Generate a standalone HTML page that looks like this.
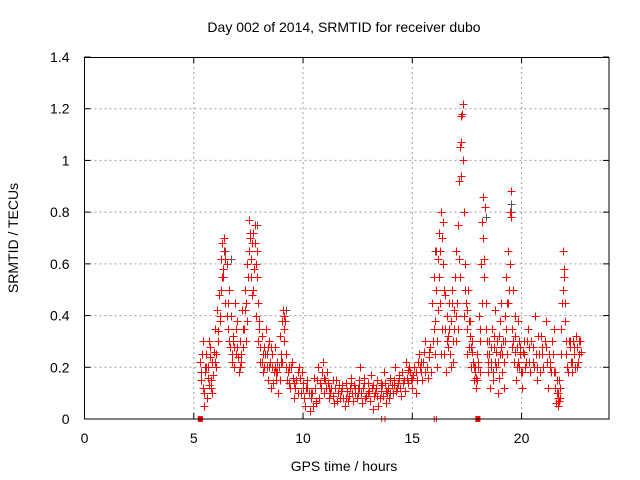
<!DOCTYPE html>
<html><head><meta charset="utf-8"><style>
body{margin:0;background:#fff;}
svg{display:block;font-family:"Liberation Sans",sans-serif;}
</style></head><body>
<svg id="chart" width="640" height="480" viewBox="0 0 640 480">
<rect width="640" height="480" fill="#fff"/>
<text x="344" y="32" text-anchor="middle" font-size="14" fill="#000">Day 002 of 2014, SRMTID for receiver dubo</text>
<text x="344" y="471" text-anchor="middle" font-size="14" fill="#000">GPS time / hours</text>
<text x="18" y="238" text-anchor="middle" font-size="14" fill="#000" transform="rotate(-90 18 238)">SRMTID / TECUs</text>
<g id="grid"></g>
<g id="ticks"></g>
<g id="marks"></g>
<rect x="84.5" y="57.5" width="524.5" height="361.5" fill="none" stroke="#000" stroke-width="1"/>
</svg>
<script>
const xTicks=[0,5,10,15,20];
const yTicks=[0,0.2,0.4,0.6,0.8,1,1.2,1.4];
const yTickLabels=["0","0.2","0.4","0.6","0.8","1","1.2","1.4"];
const hours=[
5.30,5.35,5.40,5.45,5.50,5.55,5.60,5.65,5.70,5.75,
5.80,5.85,5.90,5.95,6.00,6.05,6.10,6.15,6.20,6.25,
6.30,6.35,6.40,6.45,6.50,6.55,6.60,6.65,6.70,6.75,
6.80,6.85,6.90,6.95,7.00,7.05,7.10,7.15,7.20,7.25,
7.30,7.35,7.40,7.45,7.50,7.55,7.60,7.65,7.70,7.75,
7.80,7.85,7.90,7.95,8.00,8.05,8.10,8.15,8.20,8.25,
8.30,8.35,8.40,8.45,8.50,8.55,8.60,8.65,8.70,8.75,
8.80,8.85,8.90,8.95,9.00,9.05,9.10,9.15,9.20,9.25,
9.30,9.40,9.50,9.60,9.70,9.80,9.90,10.00,10.10,10.20,
10.30,10.40,10.50,10.60,10.70,10.80,10.90,11.00,11.10,11.20,
11.30,11.40,11.50,11.60,11.70,11.80,11.90,12.00,12.10,12.20,
12.30,12.40,12.50,12.60,12.70,12.80,12.90,13.00,13.10,13.20,
13.30,13.40,13.50,13.60,13.70,13.80,13.90,14.00,14.10,14.20,
14.30,14.40,14.50,14.60,14.70,14.80,14.90,15.00,15.10,15.20,
15.30,15.40,15.50,15.60,15.70,15.80,15.90,16.00,16.05,16.10,
16.15,16.20,16.25,16.30,16.35,16.40,16.45,16.50,16.55,16.60,
16.65,16.70,16.75,16.80,16.85,16.90,16.95,17.00,17.05,17.10,
17.15,17.20,17.25,17.30,17.35,17.40,17.45,17.50,17.55,17.60,
17.65,17.70,17.75,17.80,17.85,17.90,17.95,18.00,18.05,18.10,
18.15,18.20,18.25,18.30,18.35,18.40,18.45,18.50,18.55,18.60,
18.65,18.70,18.75,18.80,18.85,18.90,18.95,19.00,19.05,19.10,
19.15,19.20,19.25,19.30,19.35,19.40,19.45,19.50,19.55,19.60,
19.65,19.70,19.75,19.80,19.85,19.90,19.95,20.00,20.10,20.20,
20.30,20.40,20.50,20.60,20.70,20.80,20.90,21.00,21.10,21.20,
21.30,21.40,21.50,21.55,21.60,21.65,21.70,21.75,21.80,21.85,
21.90,21.95,22.00,22.05,22.10,22.20,22.30,22.40,22.50,22.60,
22.65,22.70,21.92,21.88,17.28,17.25,17.22,16.42,18.32,19.52,
5.33,5.43,5.53,5.63,5.73,5.83,5.93,6.03,6.13,6.23,
6.33,6.43,6.53,6.63,6.73,6.83,6.93,7.03,7.13,7.23,
7.33,7.43,7.53,7.63,7.73,7.83,7.93,8.03,8.13,8.23,
8.33,8.43,8.53,8.63,8.73,8.83,8.93,9.03,9.13,9.23,
9.35,9.45,9.55,9.65,9.75,9.85,9.95,10.05,10.15,10.25,
10.35,10.45,10.55,10.65,10.75,10.85,10.95,11.05,11.15,11.25,
11.35,11.45,11.55,11.65,11.75,11.85,11.95,12.05,12.15,12.25,
12.35,12.45,12.55,12.65,12.75,12.85,12.95,13.05,13.15,13.25,
13.35,13.45,13.55,13.65,13.75,13.85,13.95,14.05,14.15,14.25,
14.35,14.45,14.55,14.65,14.75,14.85,14.95,15.05,15.15,15.25,
15.35,15.45,15.55,15.65,15.75,15.85,15.95,16.02,16.08,16.12,
16.22,16.32,16.48,16.58,16.68,16.78,16.88,16.98,17.08,17.18,
17.38,17.48,17.58,17.68,17.78,17.88,17.98,18.08,18.18,18.28,
18.38,18.48,18.58,18.68,18.78,18.88,18.98,19.08,19.18,19.28,
19.38,19.48,19.58,19.68,19.78,19.88,19.98,20.05,20.15,20.25,
20.35,20.45,20.55,20.65,20.75,20.85,20.95,21.05,21.15,21.25,
21.35,21.45,21.52,21.58,21.62,21.68,21.72,21.78,22.15,22.25,
22.35,22.45,22.55,5.48,5.68,7.68,7.88,9.12,16.18,16.38,
5.38,5.58,5.78,5.98,6.18,6.38,6.58,6.78,6.98,7.18,
7.38,7.58,7.78,7.98,8.18,8.38,8.58,8.78,8.98,9.18,
9.38,9.58,9.78,9.98,10.18,10.38,10.58,10.78,10.98,11.18,
11.38,11.58,11.78,11.98,12.18,12.38,12.58,12.78,12.98,13.18,
13.38,13.58,13.78,13.98,14.18,14.38,14.58,14.78,14.98,15.18,
15.38,15.58,15.78,15.98,16.18,16.28,16.44,16.62,16.72,16.82,
16.92,17.02,17.12,17.32,17.42,17.52,17.62,17.72,17.82,17.92,
18.02,18.12,18.22,18.42,18.52,18.62,18.72,18.82,18.92,19.02,
19.12,19.22,19.32,19.42,19.62,19.72,19.82,19.92,20.02,20.12,
20.32,20.52,20.72,20.92,21.12,21.32,21.48,21.66,21.82,21.98,
22.02,22.12,22.22,22.32,22.42,22.52,22.62,22.68,6.28,7.58];
const tec=[
0.22,0.15,0.30,0.10,0.18,0.25,0.08,0.20,0.13,0.28,
0.12,0.22,0.17,0.35,0.25,0.42,0.30,0.48,0.38,0.62,
0.68,0.55,0.70,0.45,0.60,0.35,0.50,0.28,0.40,0.22,
0.32,0.20,0.45,0.25,0.38,0.18,0.30,0.22,0.42,0.28,
0.35,0.50,0.45,0.60,0.55,0.77,0.62,0.48,0.72,0.58,
0.75,0.40,0.55,0.30,0.38,0.22,0.32,0.18,0.28,0.25,
0.35,0.20,0.15,0.30,0.22,0.12,0.25,0.18,0.28,0.15,
0.22,0.10,0.20,0.32,0.25,0.38,0.42,0.30,0.20,0.15,
0.18,0.12,0.22,0.08,0.15,0.20,0.10,0.14,0.05,0.12,
0.03,0.10,0.16,0.07,0.20,0.12,0.22,0.15,0.18,0.08,
0.12,0.06,0.15,0.10,0.08,0.13,0.05,0.11,0.09,0.16,
0.07,0.12,0.10,0.20,0.06,0.14,0.09,0.11,0.17,0.04,
0.10,0.15,0.08,0.13,0.18,0.06,0.12,0.16,0.10,0.20,
0.12,0.17,0.09,0.15,0.22,0.14,0.18,0.12,0.20,0.15,
0.25,0.18,0.22,0.30,0.16,0.28,0.45,0.55,0.38,0.65,
0.30,0.72,0.45,0.80,0.35,0.60,0.25,0.48,0.18,0.40,
0.28,0.35,0.20,0.50,0.30,0.42,0.55,0.65,0.45,0.75,
0.92,1.05,1.17,1.22,0.80,0.60,0.45,0.35,0.50,0.28,
0.38,0.20,0.30,0.15,0.18,0.12,0.25,0.22,0.40,0.30,
0.60,0.76,0.86,0.55,0.35,0.25,0.18,0.30,0.12,0.22,
0.35,0.15,0.28,0.42,0.20,0.10,0.32,0.25,0.45,0.18,
0.30,0.12,0.40,0.55,0.25,0.65,0.80,0.88,0.35,0.50,
0.22,0.32,0.15,0.28,0.38,0.20,0.25,0.12,0.30,0.22,
0.35,0.18,0.28,0.40,0.15,0.25,0.32,0.20,0.38,0.12,
0.22,0.30,0.35,0.18,0.10,0.05,0.15,0.08,0.25,0.45,
0.65,0.55,0.38,0.30,0.20,0.28,0.18,0.25,0.32,0.22,
0.30,0.26,0.58,0.50,1.18,1.07,0.94,0.76,0.82,0.78,
0.18,0.12,0.20,0.16,0.24,0.10,0.26,0.20,0.34,0.50,
0.58,0.62,0.40,0.30,0.25,0.28,0.35,0.24,0.20,0.35,
0.42,0.38,0.65,0.55,0.50,0.60,0.45,0.28,0.22,0.20,
0.25,0.20,0.28,0.14,0.20,0.18,0.15,0.22,0.35,0.25,
0.14,0.20,0.16,0.12,0.10,0.16,0.18,0.08,0.12,0.10,
0.08,0.05,0.12,0.15,0.08,0.18,0.10,0.12,0.14,0.10,
0.09,0.12,0.07,0.13,0.11,0.08,0.14,0.07,0.12,0.10,
0.13,0.08,0.15,0.10,0.12,0.08,0.14,0.07,0.12,0.09,
0.12,0.05,0.11,0.09,0.14,0.10,0.08,0.13,0.15,0.11,
0.14,0.12,0.18,0.11,0.16,0.20,0.15,0.17,0.10,0.22,
0.20,0.15,0.26,0.20,0.24,0.18,0.30,0.25,0.50,0.20,
0.55,0.25,0.35,0.30,0.45,0.38,0.22,0.30,0.35,0.55,
0.40,0.25,0.38,0.28,0.22,0.20,0.15,0.18,0.45,0.62,
0.45,0.22,0.28,0.18,0.22,0.30,0.16,0.28,0.22,0.35,
0.45,0.60,0.28,0.40,0.20,0.30,0.18,0.26,0.20,0.30,
0.22,0.30,0.20,0.25,0.32,0.18,0.28,0.30,0.22,0.25,
0.18,0.25,0.12,0.06,0.15,0.10,0.07,0.12,0.30,0.22,
0.30,0.20,0.28,0.05,0.30,0.68,0.65,0.40,0.62,0.70,
0.25,0.20,0.15,0.22,0.40,0.65,0.45,0.30,0.28,0.25,
0.30,0.70,0.68,0.35,0.25,0.28,0.20,0.18,0.22,0.38,
0.20,0.14,0.18,0.12,0.15,0.10,0.06,0.14,0.16,0.12,
0.15,0.10,0.12,0.08,0.14,0.10,0.12,0.16,0.10,0.13,
0.09,0.14,0.11,0.15,0.13,0.16,0.14,0.19,0.16,0.18,
0.22,0.18,0.26,0.35,0.42,0.65,0.50,0.32,0.25,0.45,
0.35,0.40,0.62,1.00,0.50,0.42,0.32,0.26,0.20,0.16,
0.20,0.35,0.70,0.30,0.25,0.20,0.32,0.26,0.22,0.38,
0.25,0.30,0.45,0.50,0.30,0.26,0.22,0.28,0.18,0.25,
0.28,0.22,0.20,0.25,0.28,0.20,0.18,0.08,0.35,0.45,
0.25,0.18,0.30,0.22,0.28,0.20,0.25,0.30,0.55,0.72];
const greyHours=[17.30,19.50,7.90,6.45,16.05,18.35,9.20,6.70,19.52,12.5,14.0];
const greyTec=[1.22,0.83,0.75,0.65,0.65,0.78,0.42,0.62,0.80,0.12,0.10];
const squareHours=[5.3,18.0];
const tickMarkHours=[13.6,13.75,16.0,16.1];

const X0=84.5,X1=609,Y0=419,Y1=57,XMAX=24,YMAX=1.4;
function xs(h){return X0+(h/XMAX)*(X1-X0);}
function ys(v){return Y0-(v/YMAX)*(Y0-Y1);}
const NS='http://www.w3.org/2000/svg';
function mk(tag,attrs,parent){const e=document.createElementNS(NS,tag);for(const k in attrs)e.setAttribute(k,attrs[k]);parent.appendChild(e);return e;}
const grid=document.getElementById('grid'),ticks=document.getElementById('ticks'),marks=document.getElementById('marks');
xTicks.forEach(t=>{
  const x=xs(t);
  if(t>0){
    const g=mk('line',{x1:x,x2:x,y1:Y1,y2:Y0,stroke:'#a0a0a0','stroke-dasharray':'2,3'},grid);
    
    
  }
  const tl=mk('line',{x1:x,x2:x,y1:Y0,y2:Y0-6,stroke:'#000'},ticks);
  
  
  const tt=mk('line',{x1:x,x2:x,y1:Y1,y2:Y1+6,stroke:'#000'},ticks);
  
  
  const lb=mk('text',{x:x,y:Y0+24,'text-anchor':'middle','font-size':'14',fill:'#000'},ticks);
  lb.textContent=String(t);
  
  
});
yTicks.forEach((t,i)=>{
  const y=ys(t);
  if(t>0&&t<YMAX){
    const g=mk('line',{x1:X0,x2:X1,y1:y,y2:y,stroke:'#a0a0a0','stroke-dasharray':'2,3'},grid);
    
    
  }
  const tl=mk('line',{x1:X0,x2:X0+6,y1:y,y2:y,stroke:'#000'},ticks);
  
  
  const tr=mk('line',{x1:X1,x2:X1-6,y1:y,y2:y,stroke:'#000'},ticks);
  
  
  const lb=mk('text',{x:X0-15,y:y+5,'text-anchor':'end','font-size':'14',fill:'#000'},ticks);
  lb.textContent=yTickLabels[i];
  
  
});
function cross(h,v,color,name){
  const x=Math.round(xs(h))+0.5,y=Math.round(ys(v))+0.5;
  const p=mk('path',{d:'M'+(x-4)+','+y+'H'+(x+4)+'M'+x+','+(y-4)+'V'+(y+4),stroke:color,'stroke-width':'1',fill:'none'},marks);
  
  
}
greyHours.forEach((h,i)=>cross(h,greyTec[i],'#555','grey-point'));
hours.forEach((h,i)=>cross(h,tec[i],'#ff0000','srmtid-point'));
squareHours.forEach(h=>{
  const r=mk('rect',{x:xs(h)-2.5,y:Y0-3,width:5,height:6,fill:'#ff0000'},marks);
  
  
});
tickMarkHours.forEach(h=>{
  const l=mk('line',{x1:xs(h),x2:xs(h),y1:Y0-3,y2:Y0+3,stroke:'#ff0000'},marks);
  
  
});
</script>
</body></html>
